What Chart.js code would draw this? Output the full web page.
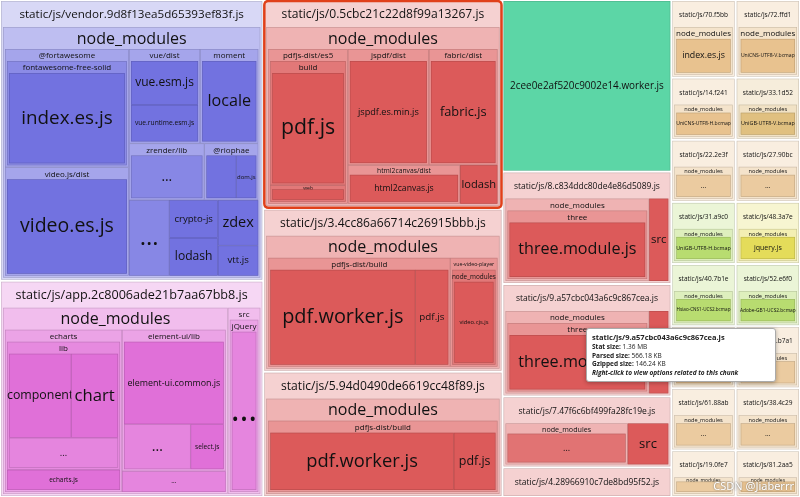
<!DOCTYPE html>
<html><head><meta charset="utf-8">
<script src="https://cdn.jsdelivr.net/npm/chart.js@4"></script>
<style>html,body{margin:0;padding:0;background:#fff;}#w{position:relative;width:800px;height:497px;}
#tip{position:absolute;left:586px;top:328px;width:178px;background:#fff;border:1px solid #aaa;border-radius:3px;font:6.5px/1.35 "Open Sans",sans-serif;padding:3px 5px;color:#222;box-shadow:0 1px 4px rgba(0,0,0,.3)}
#wm{position:absolute;right:6px;bottom:4px;font:11px "Noto Sans",sans-serif;color:#fff;text-shadow:0 0 2px #666}</style>
</head><body><div id="w"><canvas id="c" width="800" height="497"></canvas>
<div id="tip"><b style="font-size:7.5px">static/js/9.a57cbc043a6c9c867cea.js</b><br><b>Stat size:</b> 1.36 MB<br><b>Parsed size:</b> 566.18 KB<br><b>Gzipped size:</b> 146.24 KB<br><i><b>Right-click to view options related to this chunk</b></i></div>
<div id="wm">CSDN @Jiaberrr</div></div>
<script>
// ---- data ----
const vendorTree = [["node_modules",0,[
  ["@fortawesome",0,[["fontawesome-free-solid",0,[["index.es.js",24]]]]],
  ["video.js/dist",0,[["video.es.js",22]]],
  ["moment",0,[["locale",9]]],
  ["zrender/lib",0,[["…",7]]],
  ["vue/dist",0,[["vue.esm.js",6],["vue.runtime.esm.js",5]]],
  ["@riophae",0,[["dom.js",2],["print.umd.min.js",3]]],
  ["crypto-js",3],["lodash",3],["vtt.js",2],["…",5],["zdex",3]]]];
const appTree = [["node_modules",0,[
  ["echarts",0,[["lib",0,[["component",16],["chart",12],["…",10]]],["echarts.js",6]]],
  ["element-ui/lib",0,[["element-ui.common.js",22],["select.js",4],["…",8]]],
  ["…",5]]],["src",0,[["jQuery",0,[["…",12]]]]]];
const pdfTree = [["node_modules",0,[
  ["pdfjs-dist/es5",0,[["build",0,[["pdf.js",30]]],["web",0,[["pdf_viewer.js",4]]]]],
  ["fabric/dist",0,[["fabric.js",22]]],
  ["jspdf/dist",0,[["jspdf.es.min.js",26]]],
  ["html2canvas/dist",0,[["html2canvas.js",12]]],["lodash",4]]]];
const worker3Tree = [["node_modules",0,[
  ["pdfjs-dist/build",0,[["pdf.worker.js",44],["pdf.js",10]]],
  ["vue-video-player",0,[["node_modules",0,[["video.cjs.js",14]]]]]]]];
const worker5Tree = [["node_modules",0,[["pdfjs-dist/build",0,[["pdf.worker.js",44],["pdf.js",10]]]]]];
const threeTree = [["node_modules",0,[["three",0,[["three.module.js",30]]]]],["src",4]];
const smallTree = [["node_modules",0,[["…",6]]],["src",2]];
const chunkNames = ["static/js/vendor.9d8f13ea5d65393ef83f.js","static/js/app.2c8006ade21b7aa67bb8.js",
 "static/js/0.5cbc21c22d8f99a13267.js","static/js/3.4cc86a66714c26915bbb.js","static/js/5.94d0490de6619cc48f89.js",
 "2cee0e2af520c9002e14.worker.js","static/js/8.c834ddc80de4e86d5089.js","static/js/9.a57cbc043a6c9c867cea.js","static/js/7.47f6c6bf499fa28fc19e.js","static/js/4.28966910c7de8bd95f52.js"];
const chunkSizes = [74,57,50,39,30,29,19,19,12,5];
const chunkTrees = [vendorTree,appTree,pdfTree,worker3Tree,worker5Tree,null,threeTree,threeTree,smallTree,smallTree];
const smallNames = ["static/js/70.f5bb","static/js/14.f241","static/js/22.2e3f","static/js/31.a9c0","static/js/40.7b1e","static/js/55.c4d2","static/js/61.88ab","static/js/19.0fe7",
 "static/js/72.ffd1","static/js/33.1d52","static/js/27.90bc","static/js/48.3a7e","static/js/52.e6f0","static/js/66.b7a1","static/js/38.4c29","static/js/81.2aa5"];
const smallLeaves = ["index.es.js","UniCNS-UTF8-H.bcmap","…","UniGB-UTF8-H.bcmap","Hsiao-CNS1-UCS2.bcmap","UniJIS-UTF8-H.bcmap","…","…",
 "UniCNS-UTF8-V.bcmap","UniGB-UTF8-V.bcmap","…","jquery.js","Adobe-GB1-UCS2.bcmap","…","…","UniJIS-UTF16-H.bcmap"];
const smallSizes = [5,4,4,4,4,4,4,3, 5,4,4,4,4,4,4,3];
const columnGroups = [[0,1],[2,3,4],[5,6,7,8,9]];
const chunkBase = ["#7272e0","#e070d8","#dc5a5a","#dc5a5a","#dc5a5a","#5cd6a6","#dc5a5a","#dc5a5a","#dc5a5a","#dc5a5a"];
const smallBase = ["#e8c28f","#e8c28f","#e8c28f","#b8dc70","#b8dc70","#e8c28f","#e8c28f","#e8c28f","#e8c28f","#e0c080","#e8c28f","#e4dc5a","#b8dc70","#e8c28f","#e8c28f","#e8c28f"];

// ---- helpers ----
function sizeOf(n){ if(n[2]) return n[2].reduce((a,c)=>a+sizeOf(c),0); return n[1]; }
function mix(hex,f){const r=parseInt(hex.slice(1,3),16),g=parseInt(hex.slice(3,5),16),b=parseInt(hex.slice(5,7),16);
 const m=v=>Math.round(v+(255-v)*f);return `rgb(${m(r)},${m(g)},${m(b)})`;}
function squarify(items,x,y,w,h){
 const out=[];let list=items.slice().sort((a,b)=>b.v-a.v);const total=list.reduce((a,c)=>a+c.v,0);if(!total)return out;
 const scale=w*h/total;list=list.map(i=>({...i,a:i.v*scale}));
 while(list.length){const short=Math.min(w,h);let row=[],best=Infinity;
  while(list.length){const t=row.concat([list[0]]);const s=t.reduce((a,c)=>a+c.a,0);
   const worst=Math.max(...t.map(r=>Math.max(short*short*r.a/(s*s),s*s/(short*short*r.a))));
   if(worst<=best){best=worst;row=t;list.shift();}else break;}
  const s=row.reduce((a,c)=>a+c.a,0);
  if(w>=h){const rw=s/h;let cy=y;row.forEach(r=>{const rh=r.a/rw;out.push({...r,x,y:cy,w:rw,h:rh});cy+=rh;});x+=rw;w-=rw;}
  else{const rh=s/w;let cx=x;row.forEach(r=>{const rw=r.a/rh;out.push({...r,x:cx,y,w:rw,h:rh});cx+=rw;});y+=rh;h-=rh;}}
 return out;}
const rects=[];
function layoutNode(node,x,y,w,h,depth,base){
 const kids=node[2];
 if(!kids){rects.push({x,y,w,h,label:node[0],leaf:true,color:mix(base,node[0]==="…"?0.15:0),depth});return;}
 const big=w*h>20000;const hh=depth===0?26:(big?22:Math.min(12,h*0.25));
 rects.push({x,y,w,h,label:node[0],leaf:false,color:mix(base,Math.max(0.15,0.72-depth*0.18)),depth,hh,fs:depth===0?13.5:(big?16:Math.max(5,Math.min(8,hh*0.7)))});
 const p=2;squarify(kids.map(k=>({v:sizeOf(k),node:k})),x+p,y+hh,w-2*p,h-hh-p).forEach(r=>layoutNode(r.node,r.x,r.y,r.w,r.h,depth+1,base));}
const bigTotal=chunkSizes.reduce((a,c)=>a+c,0);const smallTotal=smallSizes.reduce((a,c)=>a+c,0);
const allTotal=bigTotal+smallTotal;let cx=0;
const cols=columnGroups.map(g=>({items:g.map(i=>({name:chunkNames[i],v:chunkSizes[i],tree:chunkTrees[i],base:chunkBase[i]}))}));
cols.push({items:smallNames.slice(0,8).map((n,i)=>({name:n,v:smallSizes[i],tree:[[ "node_modules",0,[[smallLeaves[i],smallSizes[i]]]]],base:smallBase[i]}))});
cols.push({items:smallNames.slice(8).map((n,i)=>({name:n,v:smallSizes[i+8],tree:[[ "node_modules",0,[[smallLeaves[i+8],smallSizes[i+8]]]]],base:smallBase[i+8]}))});
cols.forEach(col=>{const s=col.items.reduce((a,c)=>a+c.v,0);const cw=800*s/allTotal;let cy=0;
 col.items.forEach(it=>{const ch=497*it.v/s;const node=[it.name,it.v,it.tree];
  if(it.tree) layoutNode(node,cx+1,cy+1,cw-2,ch-2,0,it.base); else rects.push({x:cx+1,y:cy+1,w:cw-2,h:ch-2,label:it.name,leaf:true,color:it.base,depth:0,chunkLeaf:true});
  cy+=ch;});cx+=cw;});

const treemapPlugin={id:'tm',afterDatasetsDraw(chart){
 const ctx=chart.ctx,X=chart.scales.x,Y=chart.scales.y;ctx.save();
 rects.forEach(r=>{const x0=X.getPixelForValue(r.x),x1=X.getPixelForValue(r.x+r.w),y0=Y.getPixelForValue(r.y),y1=Y.getPixelForValue(r.y+r.h);
  const w=x1-x0,h=y1-y0;if(w<1||h<1)return;
  ctx.fillStyle=r.color;ctx.fillRect(x0,y0,w,h);ctx.strokeStyle='rgba(0,0,0,0.18)';ctx.lineWidth=0.6;ctx.strokeRect(x0+0.3,y0+0.3,w-0.6,h-0.6);
  ctx.fillStyle='#111';ctx.textAlign='center';
  if(r.leaf){let fs=Math.min(h*0.32,w/(r.label.length*0.56),34);if(r.chunkLeaf)fs=Math.min(fs,11);
   if(fs>=4){ctx.font=`${fs}px "Open Sans",sans-serif`;ctx.textBaseline='middle';ctx.fillText(r.label,x0+w/2,y0+h/2);}}
  else{let fs=Math.min(r.fs,w/(r.label.length*0.56));if(fs>=4){ctx.font=`${fs}px "Open Sans",sans-serif`;ctx.textBaseline='middle';ctx.fillText(r.label,x0+w/2,y0+r.hh/2+1);}}
 });
 const sel=rects.find(r=>r.label===chunkNames[2]);
 if(sel){ctx.strokeStyle='#e0401a';ctx.lineWidth=2.5;ctx.beginPath();ctx.roundRect(X.getPixelForValue(sel.x),Y.getPixelForValue(sel.y),X.getPixelForValue(sel.x+sel.w)-X.getPixelForValue(sel.x),Y.getPixelForValue(sel.y+sel.h)-Y.getPixelForValue(sel.y),4);ctx.stroke();}
 ctx.restore();}};
new Chart(document.getElementById('c'),{type:'scatter',data:{datasets:[{data:[]}]},
 options:{responsive:false,animation:false,events:[],layout:{padding:0},
  plugins:{legend:{display:false},tooltip:{enabled:false}},
  scales:{x:{type:'linear',min:0,max:800,display:false},y:{type:'linear',min:0,max:497,reverse:true,display:false}}},
 plugins:[treemapPlugin]});
</script></body></html>
